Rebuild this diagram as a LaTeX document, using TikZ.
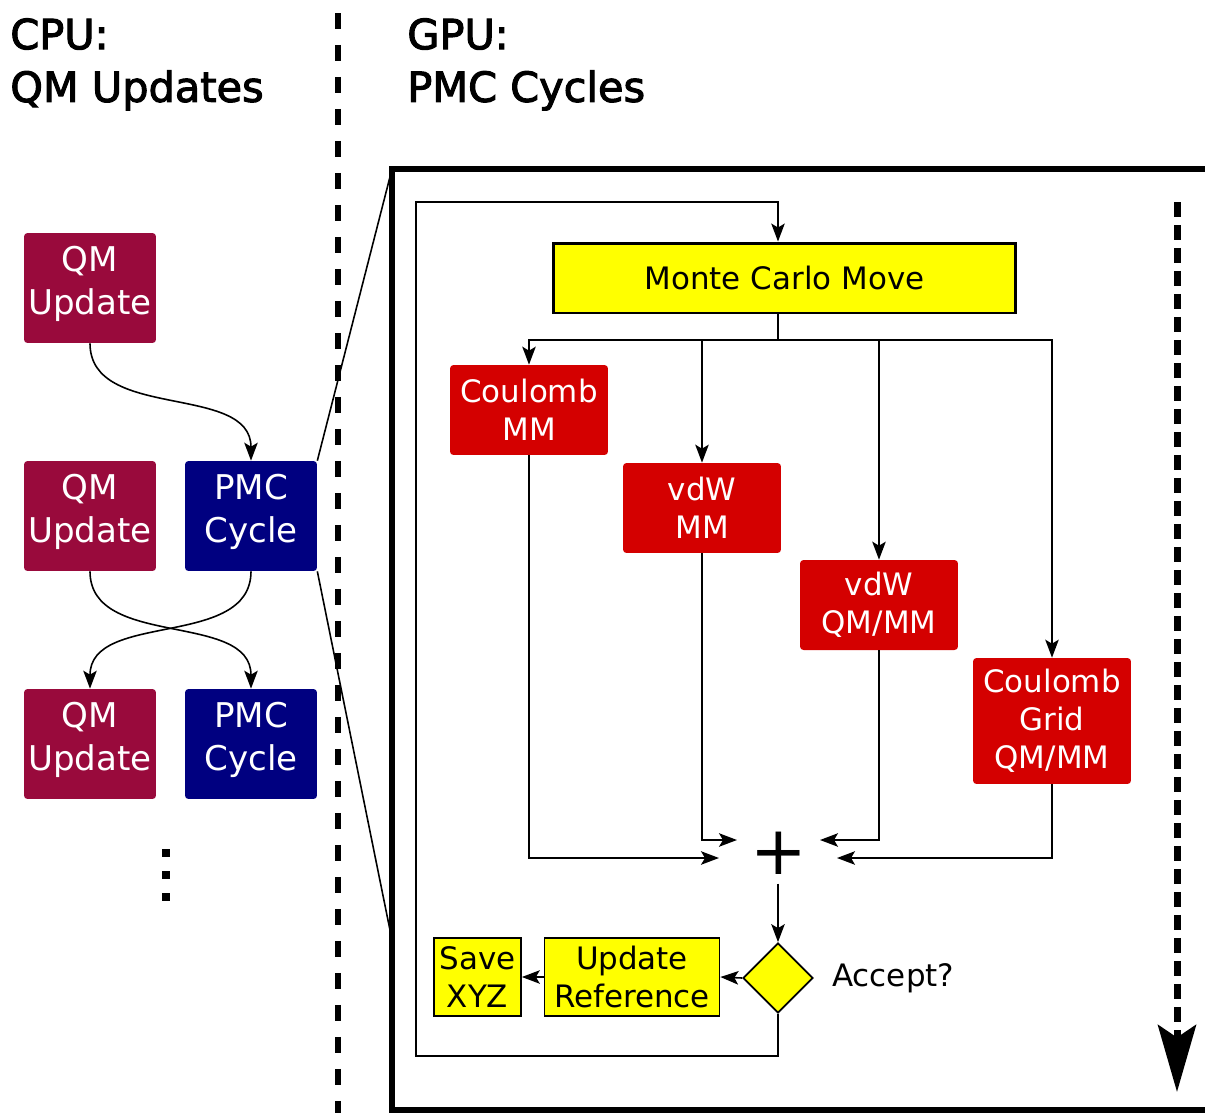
\documentclass[tikz,border=0pt]{standalone}
\usepackage{fontspec}
\setmainfont{DejaVu Sans}
\newfontfamily\headfont[FakeBold=2.5]{DejaVu Sans}
\usetikzlibrary{arrows.meta,shapes.geometric}

\definecolor{qmred}{RGB}{153,10,60}
\definecolor{pmcblue}{RGB}{0,0,128}
\definecolor{termred}{RGB}{212,0,0}
\definecolor{stepyellow}{RGB}{255,255,0}

\tikzset{
  cpubox/.style={rounded corners=2pt, text=white, align=center, inner sep=0pt, text depth=0.32cm,
    minimum width=2.64cm, minimum height=2.2cm, font=\fontsize{19.4}{24.5}\selectfont},
  qmbox/.style={cpubox, fill=qmred},
  pmcbox/.style={cpubox, fill=pmcblue},
  termbox/.style={fill=termred, rounded corners=2pt, text=white, align=center, inner sep=0pt,
    minimum width=3.16cm, minimum height=1.8cm, font=\fontsize{17.6}{21.6}\selectfont},
  stepbox/.style={draw, line width=1pt, fill=stepyellow, align=center, inner sep=0pt,
    minimum height=1.56cm, font=\fontsize{17.6}{21.6}\selectfont},
  flow/.style={line width=0.9pt, -{Stealth[length=0.36cm,width=0.27cm,inset=0.08cm]}},
  heading/.style={anchor=north west, align=left, inner sep=0pt, font=\headfont\fontsize{23.6}{30}\selectfont},
}

\begin{document}
\begin{tikzpicture}[x=0.02cm, y=-0.02cm]
  \useasboundingbox (0,0) rectangle (1205,1113);

  % headings and divider
  \node[heading] (cpu) at (10,18) {CPU:\\QM Updates};
  \node[heading] (gpu) at (407,18) {GPU:\\PMC Cycles};
  \draw[line width=0.13cm, dash pattern=on 0.32cm off 0.32cm] (338,13) -- (338,1113);

  % CPU side
  \node[qmbox] (qm1) at (90,288) {QM\\Update};
  \node[qmbox] (qm2) at (90,516) {QM\\Update};
  \node[qmbox] (qm3) at (90,744) {QM\\Update};
  \node[pmcbox] (pmc1) at (251,516) {PMC\\Cycle};
  \node[pmcbox] (pmc2) at (251,744) {PMC\\Cycle};
  \draw[flow] (qm1.south) to[out=-90, in=90] (pmc1.north);
  \draw[flow] (qm2.south) to[out=-90, in=90] (pmc2.north);
  \draw[flow] (pmc1.south) to[out=-90, in=90] (qm3.north);
  \draw[line width=0.16cm, dash pattern=on 0.16cm off 0.28cm] (166,849) -- (166,901);

  % zoom into one cycle
  \draw[line width=0.11cm] (1210,169) -- (392,169) -- (392,1110) -- (1210,1110);
  \draw[line width=0.9pt] (pmc1.north east) -- (392,169);
  \draw[line width=0.9pt] (pmc1.south east) -- (392,940);

  % GPU cycle
  \node[stepbox, line width=1.7pt, minimum width=9.26cm, minimum height=1.4cm] (mcmove) at (784.5,278) {Monte Carlo Move};
  \node[termbox] (cmm) at (529,410) {Coulomb\\MM};
  \node[termbox] (vmm) at (702,508) {vdW\\MM};
  \node[termbox] (vqm) at (879,605) {vdW\\QM/MM};
  \node[termbox, minimum height=2.52cm] (cgrid) at (1052,721) {Coulomb\\Grid\\QM/MM};
  \node[font=\fontsize{38.5}{40}\selectfont, inner sep=0pt] (plus) at (779,853) {+};
  \node[diamond, draw, line width=1pt, fill=stepyellow, aspect=1, inner sep=0pt,
    minimum width=1.4cm, minimum height=1.4cm] (accept) at (778,978) {};
  \node[anchor=west, inner sep=0pt, font=\fontsize{17.6}{21.6}\selectfont] (acclabel) at (832,978) {Accept?};
  \node[stepbox, minimum width=3.5cm] (upref) at (632,977) {Update\\Reference};
  \node[stepbox, minimum width=1.74cm] (savexyz) at (477.5,977) {Save\\XYZ};

  \coordinate (split) at (778,340);
  \coordinate (inA) at (719,858);
  \coordinate (inB) at (737,840);
  \coordinate (inC) at (820,840);
  \coordinate (inD) at (837,858);
  \coordinate (loopbl) at (416,1056);
  \coordinate (looptl) at (416,202);

  \draw[line width=0.9pt] (accept |- mcmove.south) -- (split);
  \draw[flow] (split) -| (cmm.north);
  \draw[flow] (split) -| (vmm.north);
  \draw[flow] (split) -| (vqm.north);
  \draw[flow] (split) -| (cgrid.north);
  \draw[flow] (cmm.south) |- (inA);
  \draw[flow] (vmm.south) |- (inB);
  \draw[flow] (vqm.south) |- (inC);
  \draw[flow] (cgrid.south) |- (inD);
  \draw[flow] ([yshift=-0.18cm]accept |- plus.south) -- (accept.north);
  \draw[flow] (accept.west) -- (upref.east);
  \draw[flow] (upref.west) -- (savexyz.east);
  \draw[flow] (accept.south) |- (loopbl) -- (looptl) -| (accept |- mcmove.north);

  % iterations
  \coordinate (itertop) at (1177,202);
  \coordinate (iterbot) at (1177,1092);
  \draw[line width=0.14cm, dash pattern=on 0.3cm off 0.16cm,
    -{Stealth[length=1.34cm,width=0.76cm,inset=0.25cm]}] (itertop) -- (iterbot);
\end{tikzpicture}
\end{document}
